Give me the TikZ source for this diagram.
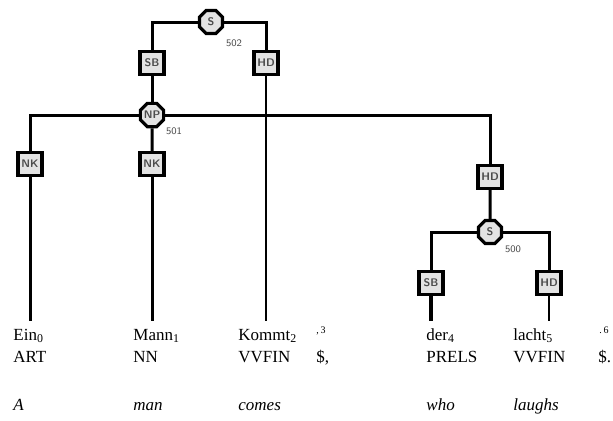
\documentclass[tikz,border=0pt]{standalone}
\usepackage{fontspec}
\setmainfont{Liberation Serif}
\usetikzlibrary{shapes.geometric}
\tikzset{
  edgebox/.style={draw,line width=1.6pt,fill=gray!22,minimum width=12pt,
    minimum height=11.5pt,inner sep=0pt,text=gray!60!black,
    font=\sffamily\bfseries\fontsize{5.5}{5.5}\selectfont},
  catnode/.style={draw,regular polygon,regular polygon sides=8,line width=1.6pt,
    fill=gray!22,minimum size=12.5pt,inner sep=0pt,text=gray!60!black,
    font=\sffamily\bfseries\fontsize{5.5}{5.5}\selectfont},
  idlab/.style={inner sep=0pt,text=gray!60!black,font=\sffamily\fontsize{5}{5}\selectfont},
  link/.style={line width=1.5pt},
  word/.style={anchor=base west,inner xsep=0pt,inner ysep=3.5pt,font=\fontsize{8.5}{9}\selectfont},
}
\begin{document}
\begin{tikzpicture}[x=0.5pt,y=-0.5pt]
\useasboundingbox (0,0) rectangle (613,420);
% nonterminals
\node[catnode] (s2) at (211,22) {S};
\node[idlab] (s2id) at (234,43) {502};
\node[edgebox] (sb2) at (152,63) {SB};
\node[edgebox] (hd2) at (266,63) {HD};
\node[catnode] (np1) at (152,115) {NP};
\node[idlab] (np1id) at (174,131) {501};
\node[edgebox] (nk0) at (30,164) {NK};
\node[edgebox] (nk1) at (152,164) {NK};
\node[edgebox] (hd1) at (490,177) {HD};
\node[catnode] (s0) at (490,232) {S};
\node[idlab] (s0id) at (513,249) {500};
\node[edgebox] (sb0) at (431,283) {SB};
\node[edgebox] (hd0) at (549,283) {HD};
% words, tags, glosses
\foreach \x/\w/\i/\t/\g in {13/Ein/0/ART/A,133/Mann/1/NN/man,
  238/Kommt/2/VVFIN/comes,426/der/4/PRELS/who,513/lacht/5/VVFIN/laughs}{
\node[word] (w\i) at (\x,340) {\w\textsubscript{\i}};
\node[word] (t\i) at (\x,362) {\t};
\node[word,font=\itshape\fontsize{8.5}{9}\selectfont] (g\i) at (\x,410) {\g};
};
\node[word,font=\fontsize{5}{5}\selectfont] (w3) at (316,333) {,\,3};
\node[word] (t3) at (316,362) {\$,};
\node[word,font=\fontsize{5}{5}\selectfont] (w6) at (599,333) {.\,6};
\node[word] (t6) at (598,362) {\$.};
% edges
\draw[link] (s2) -| (sb2);
\draw[link] (s2) -| (hd2);
\draw[link] (sb2) -- (np1);
\draw[line width=1.1pt] (hd2) -- (hd2 |- w2.north);
\draw[link] (np1) -| (nk0);
\draw[link] (np1) -- (nk1);
\draw[link] (np1) -| (hd1);
\draw[link] (nk0) -- (nk0 |- w0.north);
\draw[link] (nk1) -- (nk1 |- w1.north);
\draw[link] (hd1) -- (s0);
\draw[link] (s0) -| (sb0);
\draw[link] (s0) -| (hd0);
\draw[line width=1.8pt] (sb0) -- (sb0 |- w4.north);
\draw[line width=1.1pt] (hd0) -- (hd0 |- w5.north);
\end{tikzpicture}
\end{document}
